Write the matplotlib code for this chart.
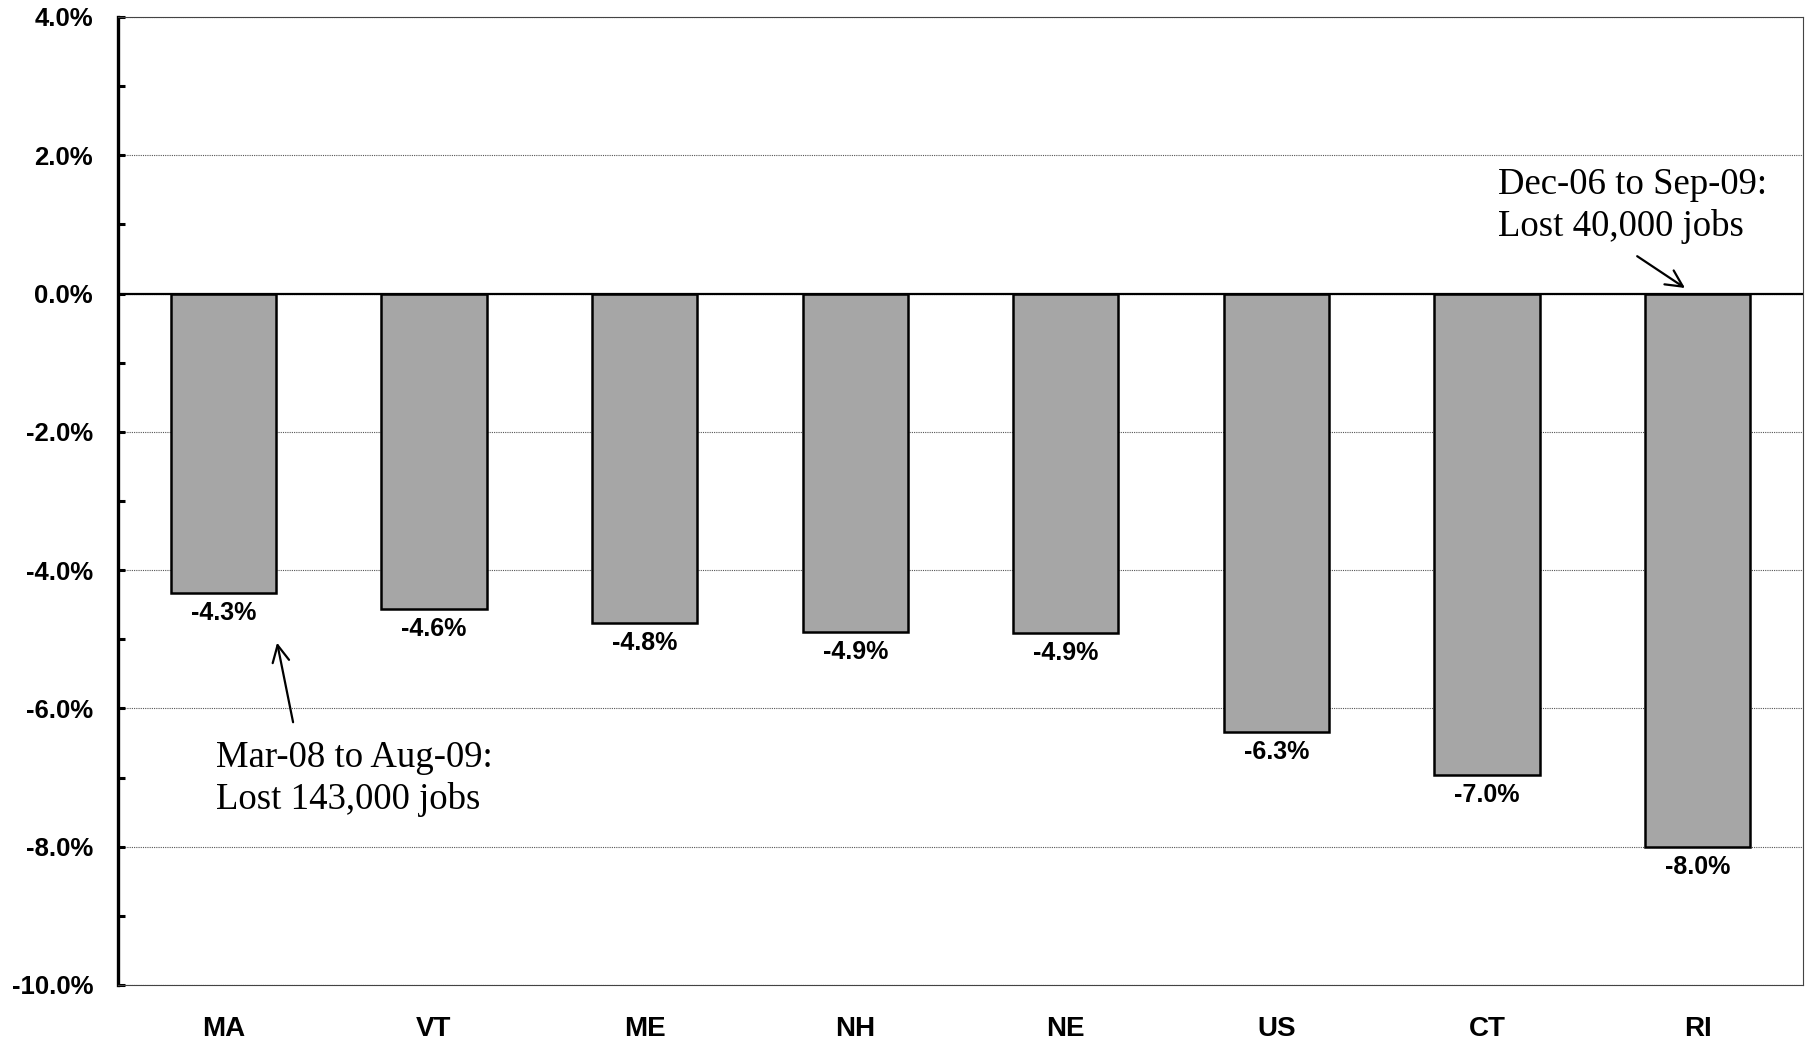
import matplotlib
matplotlib.use("Agg")
import matplotlib.pyplot as plt
from matplotlib.ticker import MultipleLocator, FuncFormatter

categories = ["MA", "VT", "ME", "NH", "NE", "US", "CT", "RI"]
values = [-4.33, -4.56, -4.76, -4.89, -4.91, -6.34, -6.96, -8.0]
note_ma = "Mar-08 to Aug-09:\nLost 143,000 jobs"
note_ri = "Dec-06 to Sep-09:\nLost 40,000 jobs"

fig = plt.figure(figsize=(18.08, 10.4), dpi=100)
ax = fig.add_axes([0.0653, 0.0529, 0.9319, 0.9308])

x = list(range(len(categories)))
ax.bar(x, values, width=0.5, color="#A6A6A6", edgecolor="black", linewidth=1.8, zorder=3)

ax.set_xlim(-0.5, len(categories) - 0.5)
ax.set_ylim(-10, 4)

ax.yaxis.set_major_locator(MultipleLocator(2))
ax.yaxis.set_minor_locator(MultipleLocator(1))
ax.yaxis.set_major_formatter(FuncFormatter(lambda v, p: f"{v:.1f}%"))
ax.grid(axis="y", which="major", color="#555555", linestyle=(0, (1, 1)), linewidth=0.8, zorder=0)
ax.axhline(0, color="black", linewidth=1.6, zorder=4)

ax.tick_params(axis="y", which="both", direction="in", length=5, width=2.2, pad=18,
               labelsize=18.5)
ax.tick_params(axis="x", length=0, pad=22, labelsize=20)
ax.set_xticks(x)
ax.set_xticklabels(categories)
for lbl in ax.get_xticklabels() + ax.get_yticklabels():
    lbl.set_fontfamily("Liberation Sans")
    lbl.set_fontweight("bold")

ax.spines["left"].set_linewidth(2.4)
ax.spines["left"].set_color("black")
for s in ["top", "right", "bottom"]:
    ax.spines[s].set_linewidth(0.8)
    ax.spines[s].set_color("#444444")

for xi, v in zip(x, values):
    ax.annotate(f"{v:.1f}%", xy=(xi, v), xytext=(0, -6), textcoords="offset points",
                ha="center", va="top", fontsize=18, fontweight="bold",
                family="Liberation Sans", zorder=5)

# annotation texts
ax.text(-0.035, -7.02, note_ma, ha="left", va="center", fontsize=26.5,
        family="Liberation Serif", linespacing=1.24)
ax.text(6.05, 1.27, note_ri, ha="left", va="center", fontsize=26.5,
        family="Liberation Serif", linespacing=1.28)

# arrows
arrow_kw = dict(arrowstyle="->", color="black", lw=1.6, mutation_scale=30,
                shrinkA=0, shrinkB=0)
ax.annotate("", xy=(0.255, -5.05), xytext=(0.331, -6.20), arrowprops=arrow_kw)
ax.annotate("", xy=(6.94, 0.08), xytext=(6.713, 0.54), arrowprops=arrow_kw)

fig.savefig("out.png", dpi=100)
